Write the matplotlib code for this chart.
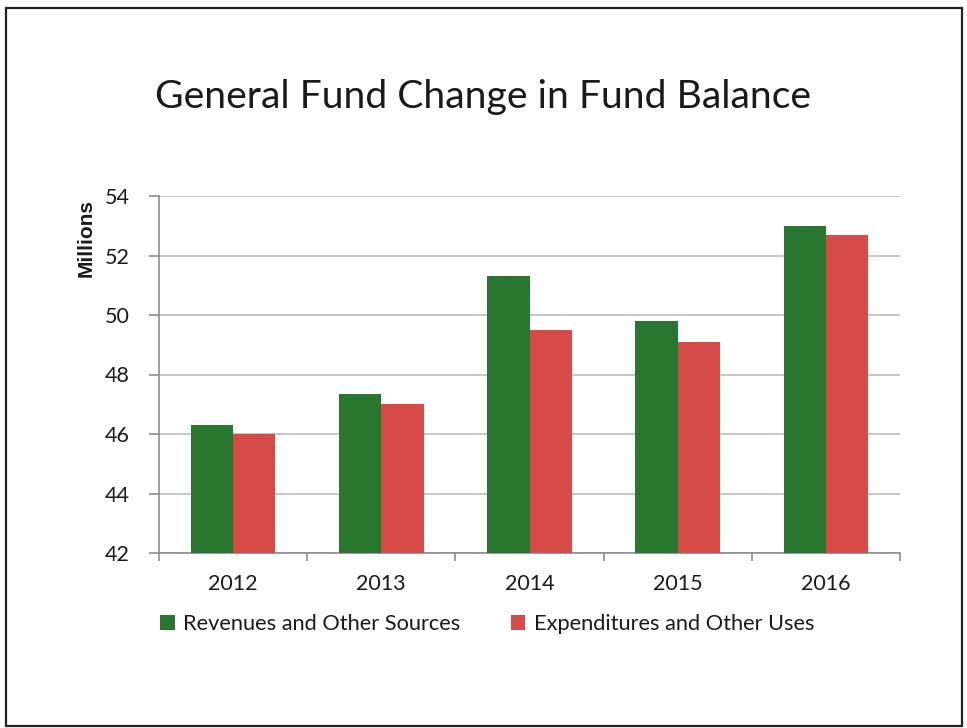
import matplotlib.pyplot as plt
import numpy as np
from matplotlib.patches import Rectangle

years = ["2012", "2013", "2014", "2015", "2016"]
revenues = [46.3, 47.35, 51.3, 49.8, 53.0]
expenditures = [46.0, 47.0, 49.5, 49.1, 52.7]
yticks = [42, 44, 46, 48, 50, 52, 54]

green = "#28762F"
red = "#D64B47"
txt = "#1a1a1a"

plt.rcParams["font.family"] = ["Lato", "DejaVu Sans"]

fig = plt.figure(figsize=(9.67, 7.28), dpi=100, facecolor="white")
ax = fig.add_axes([159 / 967, 1 - 553 / 728, 741 / 967, 357 / 728])

x = np.arange(len(years))
w = 0.285
ax.bar(x - w / 2, np.array(revenues) - 42, w, bottom=42, color=green,
       label="Revenues and Other Sources", zorder=3)
ax.bar(x + w / 2, np.array(expenditures) - 42, w, bottom=42, color=red,
       label="Expenditures and Other Uses", zorder=3)

ax.set_xlim(-0.5, len(years) - 0.5)
ax.set_ylim(42, 54)
ax.set_yticks(yticks)
ax.set_yticklabels([str(v) for v in yticks], fontsize=15.5, color=txt)
ax.yaxis.grid(True, color="#bdbdbd", linewidth=1.2, zorder=0)
ax.set_axisbelow(True)

# category labels centred, ticks on the boundaries
ax.set_xticks(x)
ax.set_xticklabels(years, fontsize=15.5, color=txt)
ax.tick_params(axis="x", length=0, pad=15)
ax.set_xticks(np.arange(-0.5, len(years)), minor=True)
ax.tick_params(axis="x", which="minor", length=6, color="#8c8c8c", width=1.2)
ax.tick_params(axis="y", length=7, color="#8c8c8c", width=1.2, pad=14)

for s in ["top", "right"]:
    ax.spines[s].set_visible(False)
for s in ["left", "bottom"]:
    ax.spines[s].set_color("#8c8c8c")
    ax.spines[s].set_linewidth(1.2)

ax.text(-0.098, 0.882, "Millions", transform=ax.transAxes, rotation=90,
        ha="center", va="center", fontsize=15, fontweight="bold", color=txt,
        family=["Liberation Sans", "DejaVu Sans"])

fig.text(483 / 967, 1 - 97 / 728, "General Fund Change in Fund Balance",
         ha="center", va="center", fontsize=28.2, color=txt)

leg = ax.legend(loc="center", bbox_to_anchor=(0.443, -0.2), ncol=2,
                frameon=False, fontsize=15.7, handlelength=0.65,
                handleheight=0.65, handletextpad=0.4, columnspacing=2.3)
for t in leg.get_texts():
    t.set_color(txt)

fig.patches.append(Rectangle((6 / 967, 1 - 726 / 728), 956 / 967, 718 / 728,
                             transform=fig.transFigure, fill=False,
                             edgecolor="#222222", linewidth=1.6))

fig.savefig("out.png", dpi=100, facecolor="white")
